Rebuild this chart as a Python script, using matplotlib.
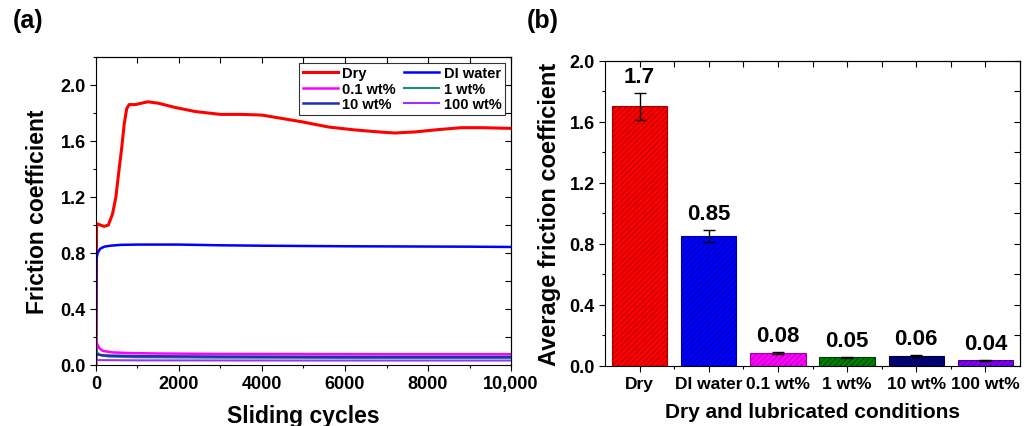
import matplotlib
matplotlib.use('Agg')
import matplotlib.pyplot as plt
from matplotlib.ticker import MultipleLocator, FuncFormatter

plt.rcParams['font.family'] = ['Liberation Sans', 'DejaVu Sans']
plt.rcParams['font.weight'] = 'bold'
plt.rcParams['hatch.linewidth'] = 0.6

# (a) friction coefficient vs sliding cycles
dry_cycles = [0, 15, 100, 200, 300, 400, 480, 550, 620, 680, 740, 800, 950, 1100, 1250, 1500,
              1900, 2400, 3000, 3500, 4000, 4500, 5000, 5600, 6200, 6800, 7200, 7700, 8200,
              8800, 9300, 10000]
dry_mu = [0.0, 1.01, 1.0, 0.99, 1.0, 1.08, 1.2, 1.38, 1.55, 1.72, 1.83, 1.86, 1.86, 1.87, 1.88,
          1.87, 1.84, 1.81, 1.79, 1.79, 1.785, 1.76, 1.735, 1.70, 1.68, 1.665, 1.657, 1.665,
          1.68, 1.695, 1.695, 1.69]

water_cycles = [0, 10, 40, 100, 200, 350, 600, 1000, 2000, 3000, 4000, 5000, 6000, 7000, 8000,
                9000, 10000]
water_mu = [0.05, 0.75, 0.80, 0.83, 0.845, 0.852, 0.858, 0.86, 0.86, 0.855, 0.852, 0.85, 0.848,
            0.847, 0.846, 0.845, 0.843]

wt01_cycles = [0, 30, 80, 170, 400, 800, 1500, 3000, 5000, 7000, 10000]
wt01_mu = [0.18, 0.15, 0.12, 0.10, 0.09, 0.085, 0.082, 0.079, 0.078, 0.077, 0.077]

wt1_cycles = [0, 30, 100, 300, 1000, 3000, 6000, 10000]
wt1_mu = [0.13, 0.09, 0.07, 0.06, 0.055, 0.052, 0.05, 0.05]

wt10_cycles = [0, 30, 200, 1000, 3000, 6000, 10000]
wt10_mu = [0.08, 0.075, 0.068, 0.063, 0.06, 0.058, 0.058]

wt100_cycles = [0, 50, 1000, 5000, 10000]
wt100_mu = [0.04, 0.035, 0.033, 0.032, 0.032]

# (b) average friction coefficient
conditions = ['Dry', 'DI water', '0.1 wt%', '1 wt%', '10 wt%', '100 wt%']
avg_mu = [1.70, 0.85, 0.085, 0.055, 0.065, 0.035]
avg_err = [0.09, 0.04, 0.006, 0.004, 0.005, 0.003]
avg_text = ['1.7', '0.85', '0.08', '0.05', '0.06', '0.04']

bar_colors = ['#FF0000', '#0000FF', '#FF00FF', '#008000', '#000080', '#8000FF']
bar_edges = ['#A00000', '#000090', '#A000A0', '#004000', '#000040', '#4A0090']

fig = plt.figure(figsize=(10.33, 4.27), dpi=100)
ax1 = fig.add_axes([0.0929, 0.1429, 0.4018, 0.7213])
ax2 = fig.add_axes([0.5857, 0.1412, 0.4017, 0.7143])

# ---- panel (a)
l_dry, = ax1.plot(dry_cycles, dry_mu, color='#FF0000', lw=2.2, label='Dry')
l_water, = ax1.plot(water_cycles, water_mu, color='#0000FF', lw=1.8, label='DI water')
l_01, = ax1.plot(wt01_cycles, wt01_mu, color='#FF00FF', lw=1.8, label='0.1 wt%')
l_1, = ax1.plot(wt1_cycles, wt1_mu, color='#1F9080', lw=1.5, label='1 wt%')
l_10, = ax1.plot(wt10_cycles, wt10_mu, color='#2330A8', lw=1.8, label='10 wt%')
l_100, = ax1.plot(wt100_cycles, wt100_mu, color='#9A30FF', lw=1.5, label='100 wt%')

ax1.set_xlim(0, 10000)
ax1.set_ylim(0, 2.2)
ax1.xaxis.set_major_locator(MultipleLocator(2000))
ax1.xaxis.set_minor_locator(MultipleLocator(1000))
ax1.yaxis.set_major_locator(MultipleLocator(0.4))
ax1.yaxis.set_minor_locator(MultipleLocator(0.2))
ax1.xaxis.set_major_formatter(FuncFormatter(lambda v, p: f'{int(v):,}' if v >= 10000 else f'{int(v)}'))
ax1.yaxis.set_major_formatter(FuncFormatter(lambda v, p: f'{v:.1f}'))
ax1.tick_params(which='both', direction='out', labelsize=13, width=0.8)
ax1.tick_params(which='major', length=4)
ax1.tick_params(which='minor', length=2.5)
top1 = ax1.secondary_xaxis('top')
top1.xaxis.set_major_locator(MultipleLocator(1000))
top1.tick_params(direction='in', labeltop=False, length=4, width=0.8)
right1 = ax1.secondary_yaxis('right')
right1.yaxis.set_major_locator(MultipleLocator(0.2))
right1.tick_params(direction='in', labelright=False, length=4, width=0.8)

ax1.set_xlabel('Sliding cycles', fontsize=16.5, fontweight='bold', labelpad=8)
ax1.set_ylabel('Friction coefficient', fontsize=16.5, fontweight='bold', labelpad=8)
# legend filled row by row like the original
leg = ax1.legend([l_dry, l_01, l_10, l_water, l_1, l_100],
                 ['Dry', '0.1 wt%', '10 wt%', 'DI water', '1 wt%', '100 wt%'],
                 loc='upper right', ncol=2, fontsize=10.5, frameon=True, fancybox=False,
                 handlelength=2.4, columnspacing=0.6, labelspacing=0.1,
                 borderpad=0.25, handletextpad=0.3, borderaxespad=0.4)
leg.get_frame().set_edgecolor('black')
leg.get_frame().set_linewidth(0.8)
fig.text(0.012, 0.935, '(a)', fontsize=18, fontweight='bold')

# ---- panel (b)
xs = range(len(conditions))
bars = ax2.bar(xs, avg_mu, width=0.8, color=bar_colors, edgecolor=bar_edges,
               linewidth=0.8, hatch='//////', yerr=avg_err, capsize=4,
               error_kw={'elinewidth': 1.0, 'capthick': 1.0, 'ecolor': 'black'})
for x, v, e, t in zip(xs, avg_mu, avg_err, avg_text):
    ax2.annotate(t, (x, v + e), xytext=(0, 4), textcoords='offset points',
                 ha='center', va='bottom', fontsize=16, fontweight='bold')

ax2.set_xlim(-0.5, len(conditions) - 0.5)
ax2.set_ylim(0, 2.0)
ax2.set_xticks(list(xs))
ax2.set_xticklabels(conditions)
ax2.set_xticks([x + 0.5 for x in xs][:-1], minor=True)
ax2.yaxis.set_major_locator(MultipleLocator(0.4))
ax2.yaxis.set_minor_locator(MultipleLocator(0.2))
ax2.yaxis.set_major_formatter(FuncFormatter(lambda v, p: f'{v:.1f}'))
ax2.tick_params(which='both', direction='out', width=0.8)
ax2.tick_params(axis='y', labelsize=13)
ax2.tick_params(axis='x', labelsize=12.5)
ax2.tick_params(which='major', length=4)
ax2.tick_params(which='minor', length=2.5)
top2 = ax2.secondary_xaxis('top')
top2.set_xticks([x * 0.5 - 0.5 for x in range(13)][1:-1])
top2.tick_params(direction='in', labeltop=False, length=4, width=0.8)
right2 = ax2.secondary_yaxis('right')
right2.yaxis.set_major_locator(MultipleLocator(0.2))
right2.tick_params(direction='in', labelright=False, length=4, width=0.8)

ax2.set_xlabel('Dry and lubricated conditions', fontsize=15, fontweight='bold', labelpad=8)
ax2.set_ylabel('Average friction coefficient', fontsize=17, fontweight='bold', labelpad=6)
fig.text(0.510, 0.935, '(b)', fontsize=18, fontweight='bold')

fig.savefig('out.png', dpi=100)
